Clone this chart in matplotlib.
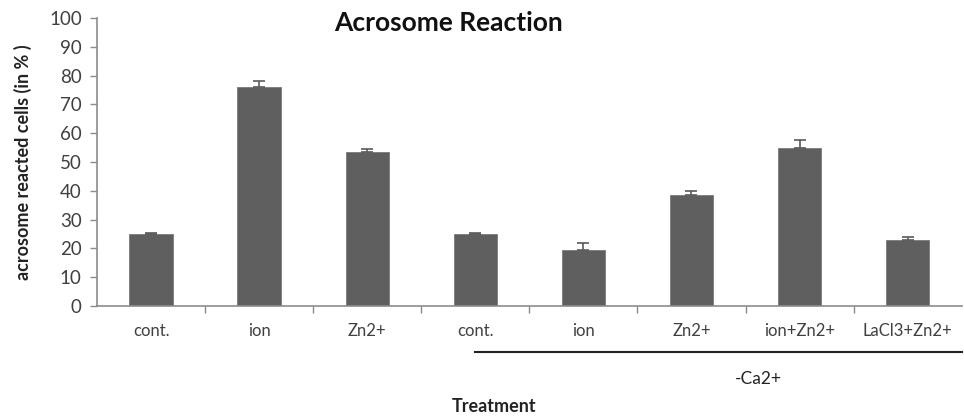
import matplotlib.pyplot as plt
import numpy as np

plt.rcParams['font.family'] = ['Lato', 'DejaVu Sans']

categories = ['cont.', 'ion', 'Zn2+', 'cont.', 'ion', 'Zn2+', 'ion+Zn2+', 'LaCl3+Zn2+']
values = [25.0, 76.0, 53.5, 25.0, 19.5, 38.5, 55.0, 23.0]
errors = [0.4, 2.1, 1.0, 0.4, 2.3, 1.4, 2.6, 0.8]
y_ticks = list(range(0, 101, 10))

bar_color = '#5f5f5f'
axis_color = '#8c8c8c'
text_color = '#404040'

fig = plt.figure(figsize=(9.64, 4.16), dpi=100)
ax = fig.add_axes([0.1006, 0.2644, 0.897, 0.6923])

x = np.arange(len(categories))
ax.bar(x, values, width=0.4, color=bar_color, edgecolor='#7a7a7a', linewidth=0.6, zorder=2)
ax.errorbar(x, values, yerr=[np.zeros(len(errors)), errors], fmt='none',
            ecolor='#5a5a5a', elinewidth=1.2, capsize=4, capthick=1.2, zorder=3)

ax.set_xlim(-0.5, len(categories) - 0.5)
ax.set_ylim(0, 100)
ax.set_yticks(y_ticks)
ax.tick_params(axis='y', colors=axis_color, labelcolor=text_color, labelsize=13.5, length=5, width=1, pad=6)

# ticks between categories, labels centred under bars
ax.set_xticks(x[:-1] + 0.5)
ax.set_xticklabels([])
ax.set_xticks(x, minor=True)
ax.set_xticklabels(categories, minor=True)
ax.tick_params(axis='x', which='major', colors=axis_color, length=5, width=1)
ax.tick_params(axis='x', which='minor', length=0, labelcolor=text_color, labelsize=12, pad=12)

for side in ['top', 'right']:
    ax.spines[side].set_visible(False)
for side in ['left', 'bottom']:
    ax.spines[side].set_color(axis_color)
    ax.spines[side].set_linewidth(1.2)

ax.set_ylabel('acrosome reacted cells (in % )', fontsize=13, fontweight='bold', color='#222222', labelpad=12)

fig.text(0.465, 0.945, 'Acrosome Reaction', fontsize=19, fontweight='bold', ha='center', va='center', color='#111111')

# group line for -Ca2+
fig.add_artist(plt.Line2D([475 / 964, 962 / 964], [1 - 352 / 416, 1 - 352 / 416], color='#222222', linewidth=1.5))
fig.text(758 / 964, 1 - 379 / 416, '-Ca2+', fontsize=12.5, ha='center', va='center', color='#222222')
fig.text(494 / 964, 1 - 406 / 416, 'Treatment', fontsize=13, fontweight='bold', ha='center', va='center', color='#222222')

fig.savefig('out.png', dpi=100)
